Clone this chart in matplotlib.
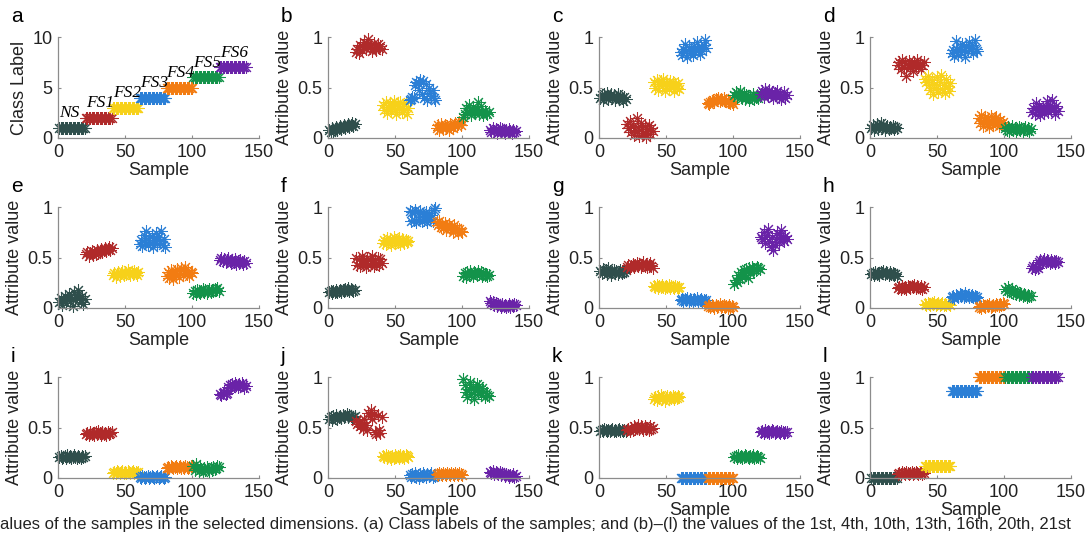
"""
Attribute values of the samples in the selected dimensions (panels a-l).
"""

import matplotlib
matplotlib.use("Agg")
import matplotlib.pyplot as plt
import numpy as np

plt.rcParams['font.family'] = ['Liberation Sans', 'DejaVu Sans']

# classes, 20 samples each
class_names = ["NS", "FS1", "FS2", "FS3", "FS4", "FS5", "FS6"]
class_labels = [1, 2, 3, 4, 5, 6, 7]
class_colors = ["#2f4f4c", "#b02a2a", "#f7d11a", "#2b7fd6", "#f27c12", "#13934a", "#6a23a8"]
n_per_class = 20

# one row per class (NS, FS1..FS6), 20 samples each
attr_b = [
    [0.08, 0.06, 0.10, 0.07, 0.09, 0.11, 0.08, 0.10, 0.12, 0.09, 0.11, 0.13, 0.10, 0.12, 0.14, 0.11, 0.13, 0.15, 0.12, 0.14],
    [0.85, 0.88, 0.84, 0.92, 0.87, 0.90, 0.95, 0.88, 0.93, 0.98, 0.89, 0.92, 0.86, 0.94, 0.90, 0.87, 0.93, 0.89, 0.91, 0.88],
    [0.33, 0.28, 0.36, 0.25, 0.31, 0.35, 0.27, 0.33, 0.37, 0.29, 0.24, 0.34, 0.30, 0.36, 0.26, 0.32, 0.28, 0.35, 0.24, 0.30],
    [0.38, 0.39, 0.41, 0.40, 0.52, 0.55, 0.54, 0.48, 0.57, 0.44, 0.56, 0.40, 0.53, 0.38, 0.50, 0.45, 0.42, 0.48, 0.40, 0.38],
    [0.10, 0.13, 0.08, 0.14, 0.11, 0.09, 0.13, 0.10, 0.12, 0.08, 0.14, 0.11, 0.10, 0.13, 0.15, 0.12, 0.14, 0.16, 0.13, 0.17],
    [0.21, 0.24, 0.30, 0.26, 0.33, 0.28, 0.23, 0.31, 0.27, 0.25, 0.29, 0.36, 0.24, 0.32, 0.26, 0.23, 0.27, 0.25, 0.24, 0.26],
    [0.08, 0.06, 0.10, 0.07, 0.09, 0.05, 0.08, 0.10, 0.06, 0.09, 0.07, 0.05, 0.08, 0.06, 0.09, 0.07, 0.05, 0.08, 0.06, 0.07],
]
attr_c = [
    [0.40, 0.43, 0.38, 0.44, 0.41, 0.45, 0.39, 0.42, 0.44, 0.40, 0.43, 0.38, 0.41, 0.44, 0.39, 0.42, 0.40, 0.37, 0.41, 0.39],
    [0.14, 0.10, 0.17, 0.06, 0.12, 0.03, 0.08, 0.20, 0.11, 0.02, 0.15, 0.07, 0.05, 0.12, 0.01, 0.09, 0.13, 0.04, 0.10, 0.07],
    [0.55, 0.50, 0.57, 0.48, 0.53, 0.56, 0.51, 0.58, 0.47, 0.54, 0.52, 0.49, 0.56, 0.51, 0.55, 0.47, 0.53, 0.50, 0.54, 0.49],
    [0.85, 0.82, 0.88, 0.93, 0.86, 0.80, 0.90, 0.84, 0.87, 0.82, 0.91, 0.85, 0.95, 0.88, 0.83, 0.90, 0.86, 0.92, 0.97, 0.89],
    [0.35, 0.34, 0.36, 0.37, 0.38, 0.36, 0.39, 0.38, 0.40, 0.37, 0.39, 0.38, 0.40, 0.37, 0.38, 0.36, 0.37, 0.35, 0.36, 0.34],
    [0.43, 0.46, 0.41, 0.44, 0.47, 0.42, 0.40, 0.44, 0.39, 0.43, 0.41, 0.38, 0.42, 0.40, 0.44, 0.39, 0.41, 0.43, 0.40, 0.42],
    [0.44, 0.47, 0.41, 0.49, 0.45, 0.42, 0.48, 0.43, 0.46, 0.40, 0.45, 0.43, 0.47, 0.41, 0.44, 0.39, 0.42, 0.46, 0.40, 0.43],
]
attr_d = [
    [0.10, 0.13, 0.08, 0.11, 0.14, 0.09, 0.12, 0.15, 0.10, 0.13, 0.08, 0.11, 0.12, 0.09, 0.11, 0.10, 0.12, 0.09, 0.11, 0.10],
    [0.72, 0.75, 0.68, 0.77, 0.70, 0.74, 0.61, 0.72, 0.76, 0.69, 0.73, 0.66, 0.75, 0.71, 0.77, 0.70, 0.74, 0.68, 0.72, 0.75],
    [0.58, 0.55, 0.61, 0.52, 0.48, 0.57, 0.44, 0.53, 0.50, 0.60, 0.46, 0.55, 0.62, 0.49, 0.52, 0.45, 0.58, 0.51, 0.47, 0.54],
    [0.84, 0.87, 0.81, 0.96, 0.88, 0.82, 0.90, 0.85, 0.93, 0.87, 0.80, 0.91, 0.86, 0.95, 0.89, 0.92, 0.84, 0.97, 0.88, 0.86],
    [0.20, 0.15, 0.23, 0.12, 0.18, 0.21, 0.14, 0.17, 0.11, 0.22, 0.16, 0.13, 0.19, 0.21, 0.15, 0.12, 0.18, 0.14, 0.16, 0.13],
    [0.10, 0.08, 0.11, 0.07, 0.09, 0.12, 0.08, 0.10, 0.07, 0.09, 0.11, 0.08, 0.10, 0.07, 0.09, 0.11, 0.08, 0.10, 0.07, 0.09],
    [0.26, 0.30, 0.24, 0.35, 0.28, 0.32, 0.23, 0.27, 0.31, 0.25, 0.29, 0.37, 0.26, 0.33, 0.28, 0.38, 0.30, 0.24, 0.32, 0.27],
]
attr_e = [
    [0.06, 0.10, 0.03, 0.08, 0.12, 0.05, 0.09, 0.14, 0.07, 0.11, 0.02, 0.16, 0.08, 0.13, 0.18, 0.10, 0.06, 0.12, 0.04, 0.09],
    [0.53, 0.55, 0.51, 0.54, 0.56, 0.52, 0.55, 0.53, 0.57, 0.54, 0.56, 0.58, 0.55, 0.57, 0.59, 0.56, 0.58, 0.60, 0.57, 0.59],
    [0.33, 0.35, 0.31, 0.34, 0.36, 0.32, 0.35, 0.37, 0.33, 0.36, 0.34, 0.38, 0.35, 0.33, 0.36, 0.34, 0.37, 0.35, 0.33, 0.36],
    [0.63, 0.67, 0.61, 0.72, 0.65, 0.76, 0.62, 0.69, 0.64, 0.71, 0.60, 0.67, 0.74, 0.63, 0.70, 0.66, 0.76, 0.62, 0.68, 0.60],
    [0.32, 0.36, 0.30, 0.38, 0.34, 0.29, 0.37, 0.33, 0.39, 0.31, 0.35, 0.40, 0.33, 0.37, 0.41, 0.34, 0.38, 0.32, 0.36, 0.35],
    [0.15, 0.17, 0.14, 0.18, 0.16, 0.15, 0.17, 0.19, 0.16, 0.18, 0.15, 0.17, 0.19, 0.16, 0.18, 0.17, 0.19, 0.18, 0.20, 0.17],
    [0.48, 0.50, 0.47, 0.49, 0.46, 0.48, 0.50, 0.47, 0.45, 0.48, 0.46, 0.49, 0.44, 0.47, 0.45, 0.48, 0.46, 0.44, 0.47, 0.45],
]
attr_f = [
    [0.16, 0.17, 0.15, 0.17, 0.16, 0.18, 0.16, 0.17, 0.18, 0.16, 0.18, 0.17, 0.19, 0.18, 0.20, 0.17, 0.19, 0.18, 0.17, 0.18],
    [0.50, 0.43, 0.49, 0.42, 0.51, 0.44, 0.48, 0.41, 0.50, 0.43, 0.49, 0.45, 0.51, 0.42, 0.48, 0.44, 0.50, 0.43, 0.49, 0.45],
    [0.64, 0.67, 0.63, 0.69, 0.65, 0.68, 0.62, 0.66, 0.70, 0.64, 0.67, 0.65, 0.69, 0.63, 0.68, 0.66, 0.64, 0.67, 0.65, 0.66],
    [0.96, 0.86, 0.95, 0.87, 0.97, 0.85, 0.94, 0.88, 0.96, 0.86, 0.93, 0.87, 0.95, 0.85, 0.94, 0.88, 0.92, 0.86, 0.97, 0.99],
    [0.85, 0.82, 0.86, 0.80, 0.83, 0.79, 0.84, 0.77, 0.81, 0.83, 0.78, 0.80, 0.75, 0.82, 0.77, 0.79, 0.74, 0.78, 0.76, 0.75],
    [0.32, 0.35, 0.31, 0.36, 0.33, 0.37, 0.34, 0.32, 0.36, 0.35, 0.33, 0.37, 0.34, 0.36, 0.32, 0.35, 0.33, 0.34, 0.32, 0.33],
    [0.07, 0.05, 0.06, 0.03, 0.05, 0.02, 0.04, 0.03, 0.01, 0.04, 0.02, 0.03, 0.01, 0.02, 0.04, 0.01, 0.03, 0.02, 0.04, 0.03],
]
attr_g = [
    [0.37, 0.35, 0.39, 0.36, 0.38, 0.34, 0.40, 0.37, 0.33, 0.36, 0.38, 0.35, 0.37, 0.34, 0.36, 0.38, 0.35, 0.37, 0.36, 0.38],
    [0.41, 0.43, 0.40, 0.42, 0.44, 0.41, 0.43, 0.45, 0.42, 0.44, 0.41, 0.43, 0.46, 0.42, 0.44, 0.41, 0.43, 0.45, 0.42, 0.40],
    [0.22, 0.21, 0.23, 0.20, 0.22, 0.21, 0.23, 0.21, 0.20, 0.22, 0.21, 0.23, 0.20, 0.22, 0.21, 0.20, 0.22, 0.21, 0.20, 0.21],
    [0.08, 0.09, 0.07, 0.09, 0.08, 0.10, 0.07, 0.09, 0.08, 0.07, 0.09, 0.08, 0.10, 0.07, 0.08, 0.09, 0.07, 0.08, 0.06, 0.08],
    [0.02, 0.03, 0.01, 0.03, 0.02, 0.00, 0.03, 0.01, 0.02, 0.04, 0.01, 0.02, 0.03, 0.01, 0.02, 0.00, 0.03, 0.01, 0.02, 0.01],
    [0.24, 0.28, 0.26, 0.33, 0.29, 0.36, 0.31, 0.38, 0.33, 0.39, 0.30, 0.40, 0.35, 0.41, 0.37, 0.39, 0.38, 0.41, 0.40, 0.39],
    [0.70, 0.68, 0.75, 0.64, 0.72, 0.78, 0.66, 0.60, 0.70, 0.57, 0.62, 0.68, 0.74, 0.65, 0.72, 0.77, 0.69, 0.66, 0.71, 0.68],
]
attr_h = [
    [0.34, 0.35, 0.33, 0.36, 0.34, 0.35, 0.33, 0.36, 0.35, 0.37, 0.34, 0.36, 0.35, 0.33, 0.36, 0.34, 0.35, 0.33, 0.34, 0.32],
    [0.20, 0.21, 0.19, 0.22, 0.20, 0.21, 0.19, 0.22, 0.21, 0.20, 0.22, 0.21, 0.23, 0.20, 0.22, 0.21, 0.20, 0.22, 0.19, 0.21],
    [0.04, 0.03, 0.05, 0.04, 0.03, 0.05, 0.04, 0.06, 0.03, 0.04, 0.05, 0.03, 0.04, 0.05, 0.03, 0.04, 0.03, 0.05, 0.04, 0.03],
    [0.11, 0.12, 0.10, 0.13, 0.12, 0.11, 0.14, 0.12, 0.13, 0.11, 0.15, 0.12, 0.13, 0.11, 0.12, 0.13, 0.11, 0.12, 0.10, 0.11],
    [0.01, 0.02, 0.00, 0.03, 0.02, 0.01, 0.03, 0.02, 0.04, 0.01, 0.02, 0.03, 0.02, 0.04, 0.03, 0.02, 0.04, 0.03, 0.05, 0.04],
    [0.19, 0.17, 0.21, 0.18, 0.16, 0.19, 0.15, 0.17, 0.14, 0.16, 0.13, 0.15, 0.14, 0.12, 0.14, 0.13, 0.11, 0.13, 0.12, 0.12],
    [0.40, 0.42, 0.39, 0.41, 0.40, 0.46, 0.48, 0.45, 0.47, 0.49, 0.46, 0.48, 0.47, 0.45, 0.48, 0.46, 0.47, 0.45, 0.47, 0.46],
]
attr_i = [
    [0.21, 0.22, 0.20, 0.21, 0.22, 0.20, 0.23, 0.21, 0.22, 0.20, 0.21, 0.23, 0.21, 0.20, 0.22, 0.21, 0.20, 0.22, 0.21, 0.22],
    [0.44, 0.45, 0.43, 0.46, 0.44, 0.45, 0.43, 0.46, 0.44, 0.47, 0.45, 0.43, 0.46, 0.44, 0.45, 0.43, 0.46, 0.44, 0.45, 0.46],
    [0.05, 0.06, 0.05, 0.07, 0.06, 0.05, 0.06, 0.07, 0.05, 0.06, 0.05, 0.07, 0.06, 0.05, 0.06, 0.07, 0.05, 0.06, 0.05, 0.06],
    [0.01, 0.00, 0.02, 0.01, 0.00, 0.01, 0.02, 0.00, 0.01, 0.02, 0.01, 0.00, 0.01, 0.02, 0.00, 0.01, 0.02, 0.01, 0.00, 0.01],
    [0.10, 0.11, 0.10, 0.12, 0.11, 0.10, 0.11, 0.12, 0.10, 0.11, 0.12, 0.10, 0.11, 0.10, 0.12, 0.11, 0.10, 0.11, 0.12, 0.11],
    [0.12, 0.08, 0.14, 0.10, 0.07, 0.11, 0.09, 0.06, 0.10, 0.08, 0.11, 0.09, 0.07, 0.10, 0.08, 0.11, 0.09, 0.10, 0.12, 0.11],
    [0.83, 0.82, 0.84, 0.85, 0.83, 0.84, 0.90, 0.92, 0.89, 0.93, 0.91, 0.94, 0.92, 0.90, 0.93, 0.91, 0.94, 0.92, 0.89, 0.91],
]
attr_j = [
    [0.58, 0.60, 0.57, 0.61, 0.59, 0.62, 0.58, 0.60, 0.61, 0.59, 0.62, 0.60, 0.61, 0.63, 0.60, 0.62, 0.61, 0.59, 0.60, 0.61],
    [0.56, 0.53, 0.55, 0.51, 0.54, 0.49, 0.58, 0.52, 0.48, 0.64, 0.61, 0.67, 0.58, 0.63, 0.46, 0.44, 0.62, 0.48, 0.45, 0.60],
    [0.22, 0.21, 0.23, 0.20, 0.22, 0.21, 0.19, 0.22, 0.20, 0.23, 0.21, 0.22, 0.20, 0.23, 0.21, 0.22, 0.20, 0.23, 0.22, 0.21],
    [0.03, 0.01, 0.04, 0.02, 0.05, 0.01, 0.03, 0.00, 0.04, 0.02, 0.05, 0.03, 0.01, 0.04, 0.02, 0.03, 0.05, 0.01, 0.03, 0.02],
    [0.04, 0.03, 0.05, 0.04, 0.03, 0.05, 0.04, 0.03, 0.05, 0.04, 0.03, 0.05, 0.04, 0.03, 0.05, 0.04, 0.03, 0.05, 0.04, 0.03],
    [0.98, 0.92, 0.85, 0.80, 0.88, 0.95, 0.83, 0.90, 0.78, 0.87, 0.93, 0.85, 0.91, 0.82, 0.89, 0.86, 0.80, 0.84, 0.82, 0.81],
    [0.06, 0.05, 0.07, 0.04, 0.06, 0.05, 0.04, 0.06, 0.03, 0.05, 0.04, 0.02, 0.04, 0.03, 0.01, 0.03, 0.02, 0.04, 0.01, 0.02],
]
attr_k = [
    [0.47, 0.48, 0.47, 0.49, 0.48, 0.47, 0.48, 0.47, 0.48, 0.49, 0.47, 0.48, 0.47, 0.48, 0.49, 0.47, 0.48, 0.47, 0.48, 0.47],
    [0.48, 0.49, 0.47, 0.50, 0.48, 0.51, 0.49, 0.50, 0.52, 0.49, 0.51, 0.50, 0.48, 0.51, 0.49, 0.50, 0.48, 0.51, 0.49, 0.50],
    [0.78, 0.80, 0.77, 0.81, 0.79, 0.82, 0.78, 0.80, 0.76, 0.79, 0.81, 0.78, 0.80, 0.79, 0.81, 0.78, 0.80, 0.79, 0.81, 0.80],
    [0.00] * 20,
    [0.00] * 20,
    [0.21, 0.22, 0.20, 0.23, 0.21, 0.22, 0.20, 0.21, 0.23, 0.22, 0.21, 0.20, 0.22, 0.21, 0.23, 0.20, 0.21, 0.22, 0.21, 0.20],
    [0.46, 0.47, 0.45, 0.48, 0.46, 0.47, 0.45, 0.46, 0.48, 0.47, 0.45, 0.46, 0.47, 0.46, 0.45, 0.47, 0.46, 0.45, 0.46, 0.46],
]
attr_l = [
    [0.00] * 20,
    [0.04, 0.05, 0.04, 0.06, 0.05, 0.04, 0.06, 0.05, 0.04, 0.05, 0.06, 0.04, 0.05, 0.06, 0.05, 0.04, 0.05, 0.06, 0.04, 0.05],
    [0.12] * 20,
    [0.86] * 20,
    [1.00] * 20,
    [1.00] * 20,
    [1.00] * 20,
]

panels = [("b", attr_b), ("c", attr_c), ("d", attr_d), ("e", attr_e), ("f", attr_f),
          ("g", attr_g), ("h", attr_h), ("i", attr_i), ("j", attr_j), ("k", attr_k), ("l", attr_l)]

caption = ("alues of the samples in the selected dimensions. (a) Class labels of the samples; and (b)\u2013(l) "
           "the values of the 1st, 4th, 10th, 13th, 16th, 20th, 21st")

W, H = 1091, 533
fig = plt.figure(figsize=(W / 100, H / 100), dpi=100)

col_left = [58, 328, 599, 870]
row_top = [37, 207, 377]
ax_w, ax_h = 201, 101

TXT = "#222222"
MARK = dict(marker=(8, 2, 0), ms=9, mew=0.75, ls="none", clip_on=False)


def make_axes(r, c, letter):
    ax = fig.add_axes([col_left[c] / W, (H - row_top[r] - ax_h) / H, ax_w / W, ax_h / H])
    for s in ["top", "right"]:
        ax.spines[s].set_visible(False)
    for s in ["left", "bottom"]:
        ax.spines[s].set_color("#8c8c8c")
        ax.spines[s].set_linewidth(0.9)
    ax.tick_params(direction="in", length=2.5, width=0.8, color="#8c8c8c",
                   labelsize=13, labelcolor=TXT, pad=4)
    ax.set_xlim(0, 150)
    ax.set_xticks([0, 50, 100, 150])
    ax.set_xlabel("Sample", fontsize=13, color=TXT, labelpad=1)
    fig.text((col_left[c] - 47) / W, (H - row_top[r] + 21) / H, letter,
             fontsize=15, ha="left", va="center")
    return ax


def sample_x(k):
    return np.arange(k * n_per_class + 1, (k + 1) * n_per_class + 1)


# panel a: class labels
ax = make_axes(0, 0, "a")
for k in range(len(class_names)):
    ax.plot(sample_x(k), np.repeat(class_labels[k], n_per_class), color=class_colors[k], **MARK)
    ax.text(k * n_per_class + 1, class_labels[k] + 1.45, class_names[k], fontsize=12.5,
            family="Liberation Serif", style="italic", ha="left", va="center")
ax.set_ylim(0, 10)
ax.set_yticks([0, 5, 10])
ax.set_ylabel("Class Label", fontsize=13, color=TXT, labelpad=3)

for idx, (letter, vals) in enumerate(panels, start=1):
    r, c = divmod(idx, 4)
    ax = make_axes(r, c, letter)
    for k in range(len(class_names)):
        ax.plot(sample_x(k), vals[k], color=class_colors[k], **MARK)
    ax.set_ylim(0, 1)
    ax.set_yticks([0, 0.5, 1])
    ax.set_yticklabels(["0", "0.5", "1"])
    ax.set_ylabel("Attribute value", fontsize=13, color=TXT, labelpad=3)

fig.text(0.0, 1 / H, caption, fontsize=12, ha="left", va="bottom", color=TXT)

fig.savefig("out.png", dpi=100)
